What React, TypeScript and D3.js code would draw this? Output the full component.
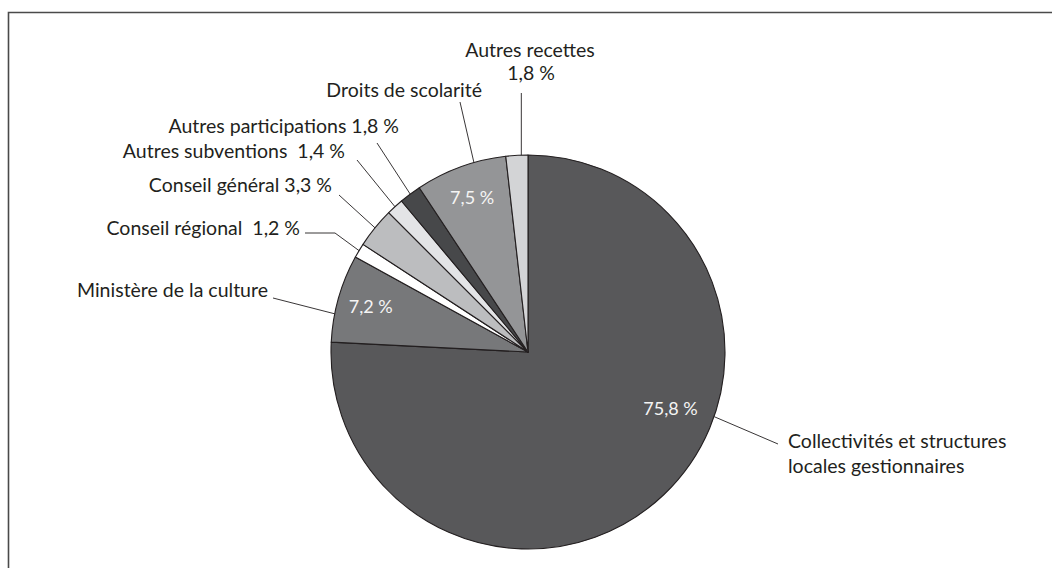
import React from "react";
import * as d3 from "d3";

const categories = [
  "Collectivités et structures locales gestionnaires",
  "Ministère de la culture",
  "Conseil régional",
  "Conseil général",
  "Autres subventions",
  "Autres participations",
  "Droits de scolarité",
  "Autres recettes",
];
const values = [75.8, 7.2, 1.2, 3.3, 1.4, 1.8, 7.5, 1.8];
const valueLabels = ["75,8 %", "7,2 %", "1,2 %", "3,3 %", "1,4 %", "1,8 %", "7,5 %", "1,8 %"];

const colors = ["#58585a", "#77787a", "#ffffff", "#bcbdbf", "#e3e4e6", "#47484a", "#949597", "#d3d4d6"];

const W = 1052;
const H = 568;
const CX = 528;
const CY = 352;
const R = 197;
const FONT = "Lato, 'Open Sans', sans-serif";
const FS = 19.5;
const FW = 400;

type Lbl = {
  lines: { text: string; x: number; y: number; anchor: "start" | "middle" | "end" }[];
  start: [number, number] | null;
  elbow?: [number, number];
  frac: number;
  vertical?: boolean;
  rEnd?: number;
};

const layout: Lbl[] = [
  {
    lines: [
      { text: "Collectivités et structures", x: 788, y: 448, anchor: "start" },
      { text: "locales gestionnaires", x: 788, y: 473, anchor: "start" },
    ],
    start: [778, 444],
    frac: 0.4,
    rEnd: 1.0,
  },
  {
    lines: [{ text: categories[1], x: 268, y: 297, anchor: "end" }],
    start: [273, 298],
    frac: 0.32,
  },
  {
    lines: [{ text: categories[2] + "  " + valueLabels[2], x: 300, y: 235, anchor: "end" }],
    start: [305, 233],
    elbow: [335, 233],
    frac: 0.5,
  },
  {
    lines: [{ text: categories[3] + " " + valueLabels[3], x: 332, y: 192, anchor: "end" }],
    start: [339, 195],
    frac: 0.5,
  },
  {
    lines: [{ text: categories[4] + "  " + valueLabels[4], x: 345, y: 158, anchor: "end" }],
    start: [357, 160],
    frac: 0.5,
  },
  {
    lines: [{ text: categories[5] + " " + valueLabels[5], x: 399, y: 133, anchor: "end" }],
    start: [377, 143],
    frac: 0.5,
  },
  {
    lines: [{ text: categories[6], x: 482, y: 97, anchor: "end" }],
    start: [460, 102],
    frac: 0.65,
  },
  {
    lines: [
      { text: categories[7], x: 530, y: 57, anchor: "middle" },
      { text: valueLabels[7], x: 531, y: 80, anchor: "middle" },
    ],
    start: [0, 93],
    frac: 0.7,
    vertical: true,
  },
];

const innerLabels: { i: number; frac: number; rf: number }[] = [
  { i: 0, frac: 0.41, rf: 0.78 },
  { i: 1, frac: 0.5, rf: 0.83 },
  { i: 6, frac: 0.5, rf: 0.83 },
];

export default function App() {
  const pie = d3.pie<number>().sort(null).value((d) => d);
  const arcs = pie(values);
  const arcGen = d3.arc<d3.PieArcDatum<number>>().innerRadius(0).outerRadius(R);

  const polar = (a: number, r: number): [number, number] => [CX + r * Math.sin(a), CY - r * Math.cos(a)];

  return (
    <svg
      width={W}
      height={H}
      style={{ position: "absolute", left: 0, top: 0, display: "block", background: "#fff" }}
    >
      <path d={`M8.5,${H} V12.5 H${W}`} fill="none" stroke="#4a4a4a" strokeWidth={1.6} />
      <g transform={`translate(${CX},${CY})`}>
        {arcs.map((a, i) => (
          <path key={i} d={arcGen(a) || ""} fill={colors[i]} stroke="#231f20" strokeWidth={1.1} strokeLinejoin="round" />
        ))}
      </g>
      {arcs.map((a, i) => {
        const L = layout[i];
        const ang = a.startAngle + (a.endAngle - a.startAngle) * L.frac;
        const end = polar(ang, R * (L.rEnd ?? 1));
        const pts: [number, number][] = [];
        if (L.start) {
          const s: [number, number] = L.vertical ? [end[0], L.start[1]] : L.start;
          pts.push(s);
          if (L.elbow) pts.push(L.elbow);
          pts.push(end);
        }
        const line = d3.line()(pts) || "";
        return (
          <g key={"l" + i}>
            <path d={line} fill="none" stroke="#231f20" strokeWidth={0.9} />
            {L.lines.map((t, j) => (
              <text
                key={j}
                x={t.x}
                y={t.y}
                textAnchor={t.anchor}
                fontFamily={FONT}
                fontSize={FS}
                fontWeight={FW}
                fill="#231f20"
                style={{ whiteSpace: "pre" }}
              >
                {t.text}
              </text>
            ))}
          </g>
        );
      })}
      {innerLabels.map(({ i, frac, rf }) => {
        const a = arcs[i];
        const ang = a.startAngle + (a.endAngle - a.startAngle) * frac;
        const [x, y] = polar(ang, R * rf);
        return (
          <text
            key={"v" + i}
            x={x}
            y={y + 6}
            textAnchor="middle"
            fontFamily={FONT}
            fontSize={18}
            fontWeight={FW}
            fill="#f4f4f4"
          >
            {valueLabels[i]}
          </text>
        );
      })}
    </svg>
  );
}
